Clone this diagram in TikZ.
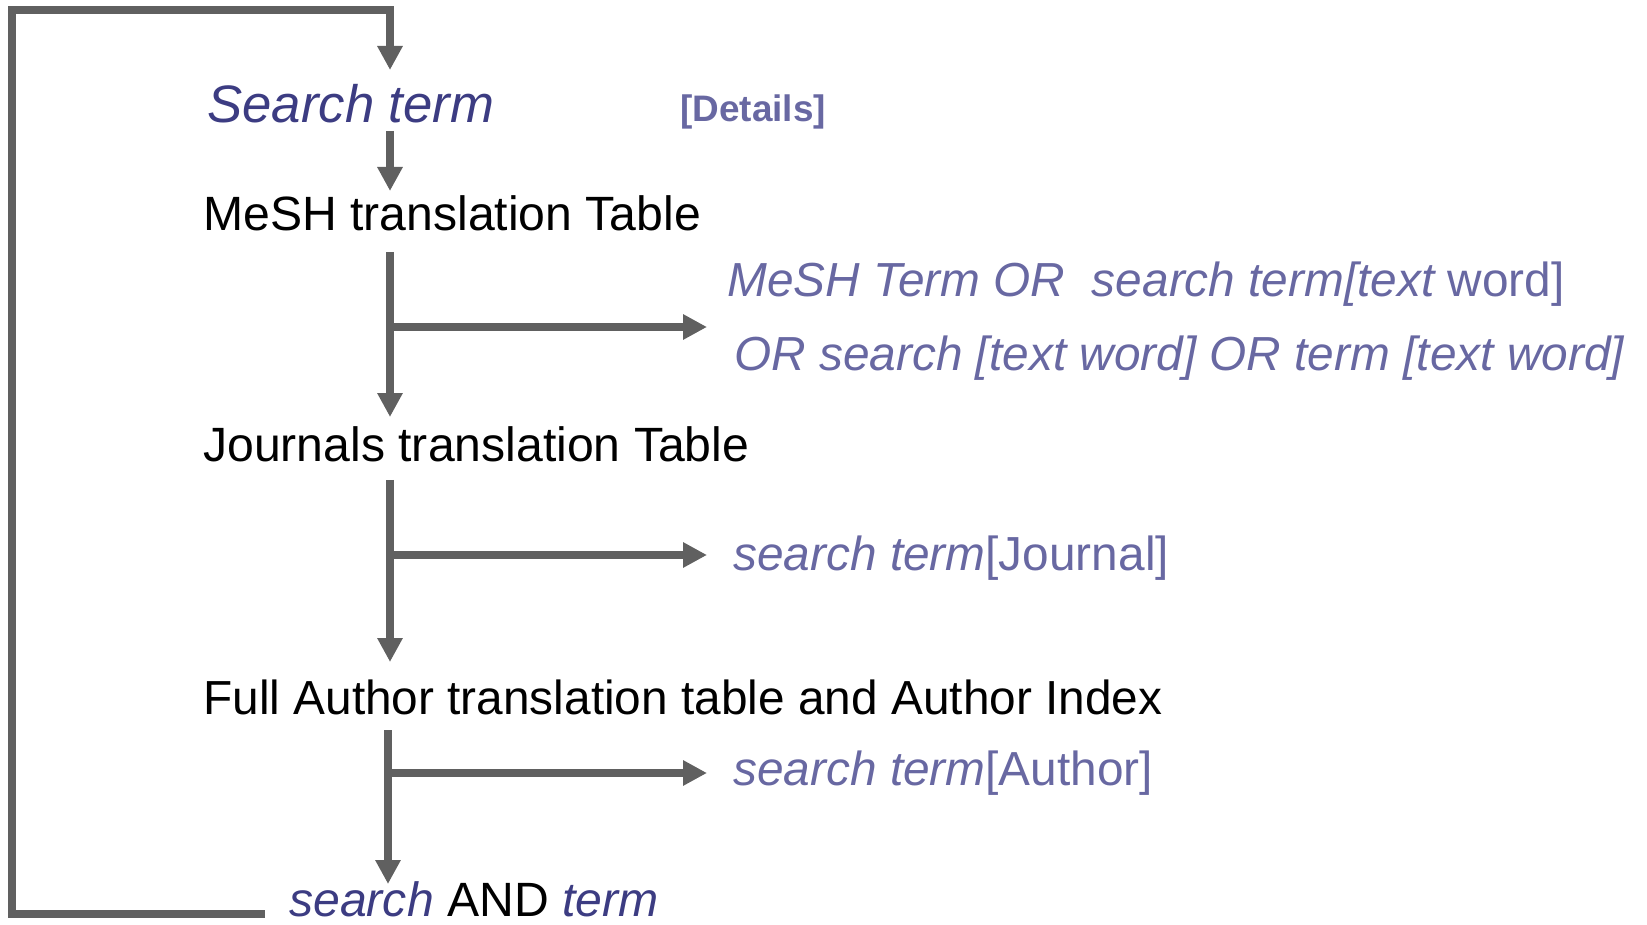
\documentclass[tikz,border=0pt]{standalone}
\usepackage{fontspec}
\setmainfont{Liberation Sans}
\usetikzlibrary{arrows.meta}

\definecolor{linegray}{HTML}{606060}
\definecolor{termblue}{HTML}{3C3C82}
\definecolor{querylav}{HTML}{6868A2}

\begin{document}
\begin{tikzpicture}[x=0.02cm, y=-0.02cm,
  flow/.style={draw=linegray, line width=4.5pt, -{Triangle[length=0.48cm, width=0.48cm]}},
  txt/.style={anchor=base west, inner sep=0pt, font=\fontsize{27.4}{32}\selectfont},
  query/.style={txt, text=querylav, font=\fontsize{27.2}{32}\selectfont\itshape}]
          \useasboundingbox (0,0) rectangle (1647,925);

          % nodes
          \node[txt, text=termblue, font=\fontsize{30}{36}\selectfont\itshape] at (207,123)
          (search) {Search term};
          \node[txt, text=querylav, font=\fontsize{21}{25}\selectfont\bfseries] at (680,122)
          (details) {[Details]};
          \node[txt] at (203,231)
          (mesh) {MeSH translation Table};
          \node[query] at (727,297)
          (meshq) {MeSH Term OR\ \ search term[text \upshape word]};
          \node[query] at (734,371)
          (orq) {OR search [text word] OR term [text word]};
          \node[txt] at (203,462)
          (journals) {Journals translation Table};
          \node[query] at (733,571)
          (journalq) {search term\upshape[Journal]};
          \node[txt, font=\fontsize{27.2}{32}\selectfont] at (203,714)
          (author) {Full Author translation table and Author Index};
          \node[query] at (733,785)
          (authorq) {search term\upshape[Author]};
          \node[txt] at (289,916)
          (combined) {\textcolor{termblue}{\textit{search}} AND \textcolor{termblue}{\textit{term}}};

          % connector ends
          \coordinate (loopend) at (265,914);
          \coordinate (loopcorner) at (12,10);
          \coordinate (searchin) at (390,70);
          \coordinate (searchout) at (390,131);
          \coordinate (meshin) at (390,191);
          \coordinate (meshout) at (390,252);
          \coordinate (meshfork) at (390,327);
          \coordinate (meshtip) at (707,327);
          \coordinate (journalsin) at (390,417);
          \coordinate (journalsout) at (390,480);
          \coordinate (journalsfork) at (390,555);
          \coordinate (journaltip) at (707,555);
          \coordinate (authorin) at (390,662);
          \coordinate (authorout) at (388,730);
          \coordinate (authorfork) at (388,773);
          \coordinate (authortip) at (707,773);
          \coordinate (combinedin) at (388,884);

          % arcs
          \draw[flow] (loopend) -| (loopcorner) -| (searchin);
          \draw[flow] (searchout) -- (meshin);
          \draw[flow] (meshout) -- (journalsin);
          \draw[flow] (meshfork) -- (meshtip);
          \draw[flow] (journalsout) -- (authorin);
          \draw[flow] (journalsfork) -- (journaltip);
          \draw[flow] (authorout) -- (combinedin);
          \draw[flow] (authorfork) -- (authortip);
        \end{tikzpicture}
\end{document}
